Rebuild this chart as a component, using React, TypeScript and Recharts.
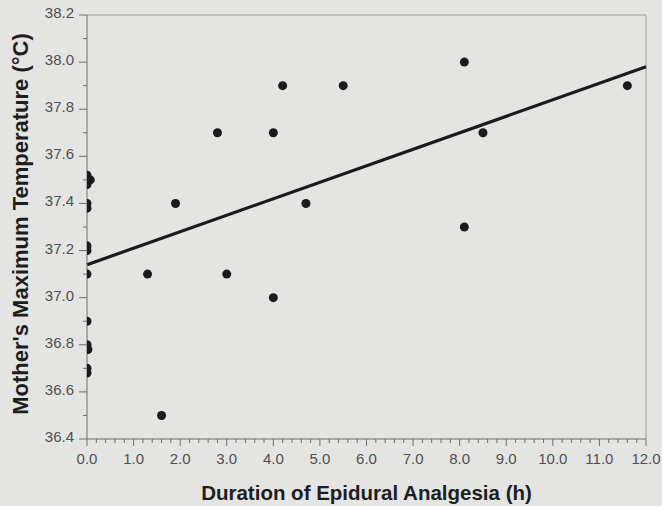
import {
  ComposedChart, Scatter, XAxis, YAxis, ReferenceLine, Label
} from "recharts";

// hours of epidural analgesia vs mother's max temperature (°C)
const durations = [
  0, 0, 0.07, 0, 0, 0, 0, 0, 0, 0, 0, 0.02, 0, 0,
  1.3, 1.6, 1.9, 2.8, 3.0, 4.0, 4.0, 4.2, 4.7, 5.5, 8.1, 8.1, 8.5, 11.6
];
const temps = [
  37.52, 37.5, 37.5, 37.48, 37.4, 37.38, 37.22, 37.2, 37.1, 36.9, 36.8, 36.78, 36.7, 36.68,
  37.1, 36.5, 37.4, 37.7, 37.1, 37.7, 37.0, 37.9, 37.4, 37.9, 38.0, 37.3, 37.7, 37.9
];

// fitted regression line end points
const fitX = [0, 12];
const fitY = [37.14, 37.98];

const xMajorTicks = [0, 1, 2, 3, 4, 5, 6, 7, 8, 9, 10, 11, 12];
const yMajorTicks = [36.4, 36.6, 36.8, 37.0, 37.2, 37.4, 37.6, 37.8, 38.0, 38.2];

const points = durations.map((d, i) => ({ x: d, y: temps[i] }));

// minor ticks: 5 per hour on x, 2 per 0.2 on y
const xTicks: number[] = [];
for (let i = 0; i < xMajorTicks.length - 1; i++) {
  for (let k = 0; k < 5; k++) xTicks.push(xMajorTicks[i] + k * 0.2);
}
xTicks.push(xMajorTicks[xMajorTicks.length - 1]);
const yTicks: number[] = [];
for (let i = 0; i < yMajorTicks.length - 1; i++) {
  yTicks.push(yMajorTicks[i], yMajorTicks[i] + 0.1);
}
yTicks.push(yMajorTicks[yMajorTicks.length - 1]);

const FONT = '"Liberation Sans", Arial, Helvetica, sans-serif';
const AXIS = "#6e6e6e";

const XTick = ({ x, y, payload }) => {
  const v = payload.value;
  const major = Math.abs(v - Math.round(v)) < 1e-6;
  return (
    <g>
      <line x1={x} x2={x} y1={y} y2={y + (major ? 7 : 4)} stroke={AXIS} strokeWidth={1} />
      {major && (
        <text x={x} y={y + 24.5} textAnchor="middle" fontSize={15} fill="#505050" fontFamily={FONT}>
          {v.toFixed(1)}
        </text>
      )}
    </g>
  );
};

const YTick = ({ x, y, payload }) => {
  const v = payload.value;
  const major = Math.abs(v * 5 - Math.round(v * 5)) < 1e-6;
  return (
    <g>
      <line x1={x} x2={x - (major ? 8 : 4)} y1={y} y2={y} stroke={AXIS} strokeWidth={1} />
      {major && (
        <text x={x - 13} y={y + 3} textAnchor="end" fontSize={15} fill="#505050" fontFamily={FONT}>
          {v.toFixed(1)}
        </text>
      )}
    </g>
  );
};

const Dot = (props) => (
  <circle cx={props.cx} cy={props.cy} r={4.5} fill="#1b1b1b" />
);

const App = () => {
  return (
    <div style={{ position: "absolute", left: 0, top: 0, width: 662, height: 506, background: "#e4e4e2" }}>
      <ComposedChart width={662} height={506} margin={{ top: 15, right: 16, bottom: 0, left: 0 }}>
        <XAxis
          type="number"
          dataKey="x"
          domain={[0, 12]}
          ticks={xTicks}
          interval={0}
          tickSize={0}
          tickMargin={0}
          tickLine={false}
          tick={XTick}
          height={67}
          axisLine={{ stroke: AXIS }}
          allowDataOverflow
        >
          <Label
            content={({ viewBox }) => (
              <text
                x={viewBox.x + viewBox.width / 2}
                y={viewBox.y + 61}
                textAnchor="middle"
                fontSize={20.5}
                fontWeight="bold"
                fill="#1e1e1e"
                fontFamily={FONT}
              >
                Duration of Epidural Analgesia (h)
              </text>
            )}
          />
        </XAxis>
        <YAxis
          type="number"
          dataKey="y"
          domain={[36.4, 38.2]}
          ticks={yTicks}
          interval={0}
          tickSize={0}
          tickMargin={0}
          tickLine={false}
          tick={YTick}
          width={87}
          axisLine={{ stroke: AXIS }}
          allowDataOverflow
        >
          <Label
            content={({ viewBox }) => {
              const cx = viewBox.x + 27.5;
              const cy = viewBox.y + viewBox.height / 2 - 3;
              return (
                <text
                  x={cx}
                  y={cy}
                  transform={`rotate(-90 ${cx} ${cy})`}
                  textAnchor="middle"
                  fontSize={22}
                  fontWeight="bold"
                  fill="#1e1e1e"
                  fontFamily={FONT}
                >
                  Mother's Maximum Temperature (°C)
                </text>
              );
            }}
          />
        </YAxis>
        <ReferenceLine y={38.2} stroke="#9a9a9a" strokeWidth={1} />
        <ReferenceLine x={12} stroke="#9a9a9a" strokeWidth={1} />
        <ReferenceLine
          segment={[{ x: fitX[0], y: fitY[0] }, { x: fitX[1], y: fitY[1] }]}
          stroke="#1b1b1b"
          strokeWidth={3.2}
        />
        <Scatter data={points} shape={Dot} isAnimationActive={false} />
      </ComposedChart>
    </div>
  );
};

export default App;
